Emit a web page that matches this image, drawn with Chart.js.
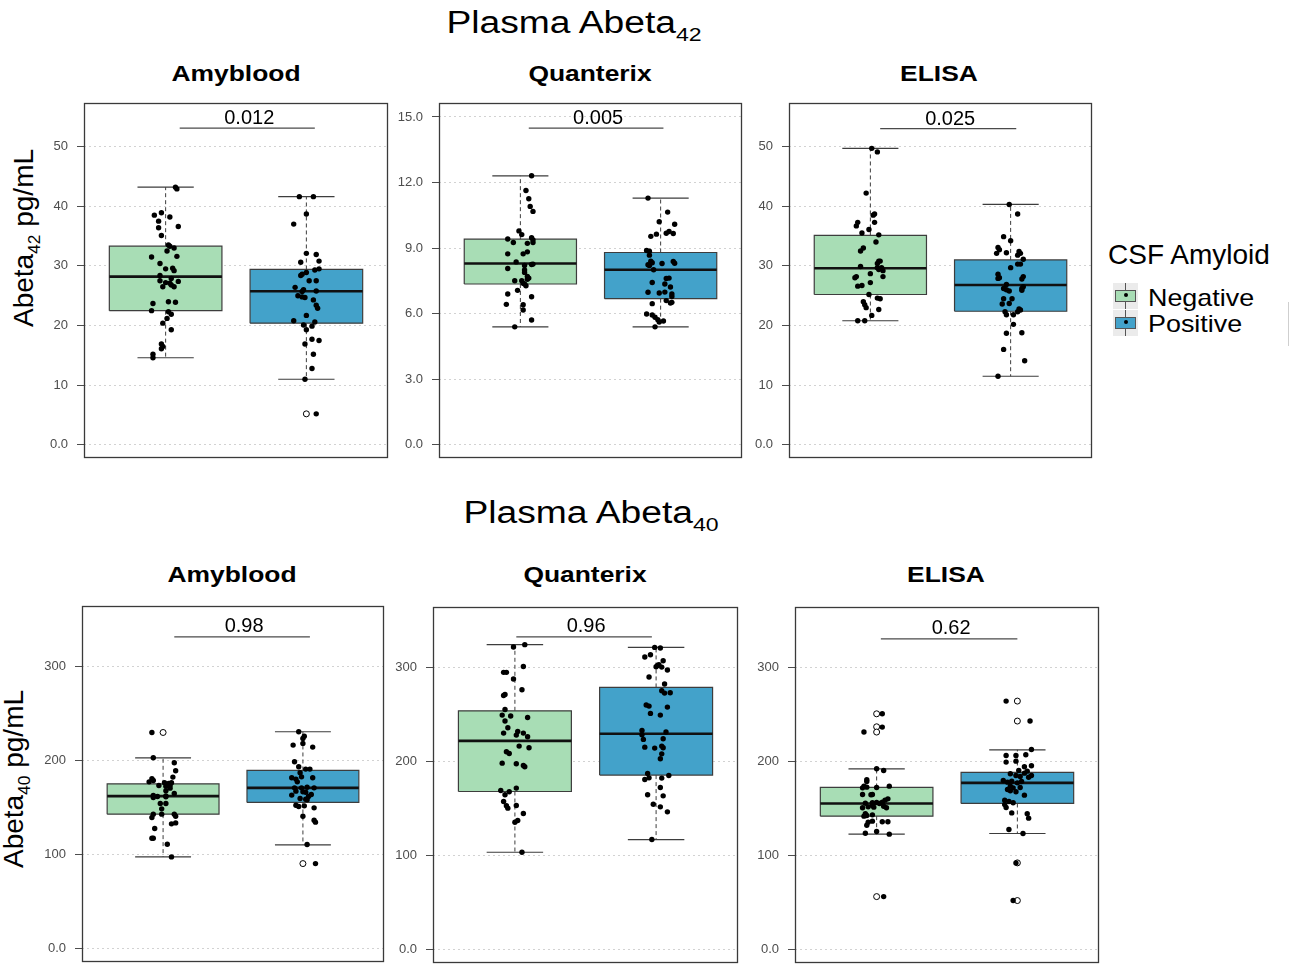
<!DOCTYPE html>
<html>
<head>
<meta charset="utf-8">
<title>Plasma Abeta42 / Abeta40</title>
<script src="https://cdn.jsdelivr.net/npm/chart.js@4.4.1/dist/chart.umd.min.js"></script>
<style>
  body { margin: 0; background: #fff; }
  #wrap { position: relative; width: 1292px; height: 965px; overflow: hidden; font-family: "Liberation Sans", Arial, sans-serif; color: #000; }
  .abs { position: absolute; white-space: nowrap; line-height: 1; }
  .main { font-size: 31px; transform: translateX(-50%) scaleX(1.2); }
  .main sub, .ylab sub { font-size: 62%; vertical-align: -0.42em; }
  .ptitle { font-size: 22px; font-weight: bold; transform: translateX(-50%) scaleX(1.2); }
  .ylab { font-size: 28px; transform: translate(-50%, -50%) rotate(-90deg); }
  .leg { font-size: 24px; transform-origin: left center; transform: scaleX(1.12); }
  .icon { position: absolute; width: 25px; height: 26px; background: #ebebeb; }
  .icon .wl { position: absolute; left: 12px; top: 0; width: 1px; height: 26px; background: #555; }
  .icon .bx { position: absolute; left: 2px; top: 7px; width: 19px; height: 10px; border: 1px solid #555; }
  .icon .dot { position: absolute; left: 11px; top: 10px; width: 4px; height: 4px; border-radius: 2px; background: #000; }
  canvas { position: absolute; }
</style>
</head>
<body>
<div id="wrap">
  <div class="abs main" style="left:574px; top:7px;">Plasma Abeta<sub>42</sub></div>
  <div class="abs main" style="left:591px; top:497px;">Plasma Abeta<sub>40</sub></div>

  <div class="abs ptitle" style="left:236px; top:63px;">Amyblood</div>
  <div class="abs ptitle" style="left:590px; top:63px;">Quanterix</div>
  <div class="abs ptitle" style="left:939px; top:63px;">ELISA</div>
  <div class="abs ptitle" style="left:232px; top:564px;">Amyblood</div>
  <div class="abs ptitle" style="left:585px; top:564px;">Quanterix</div>
  <div class="abs ptitle" style="left:946px; top:564px;">ELISA</div>

  <div class="abs ylab" style="left:27px; top:238px;">Abeta<sub>42</sub> pg/mL</div>
  <div class="abs ylab" style="left:17px; top:779px;">Abeta<sub>40</sub> pg/mL</div>

  <div class="abs" style="left:1108px; top:241px; font-size:28px;">CSF Amyloid</div>
  <div class="icon" style="left:1113px; top:283px;"><div class="wl"></div><div class="bx" style="background:#a8ddb5"></div><div class="dot"></div></div>
  <div class="icon" style="left:1113px; top:310px;"><div class="wl"></div><div class="bx" style="background:#43a2ca"></div><div class="dot"></div></div>
  <div class="abs leg" style="left:1148px; top:286px;">Negative</div>
  <div class="abs leg" style="left:1148px; top:312px;">Positive</div>
  <div class="abs" style="left:1288px; top:302px; width:1px; height:44px; background:#cfcfcf;"></div>
</div>

<script>
// groups on the x axis
const groups = ['Negative', 'Positive'];
const groupColors = ['#a8ddb5', '#43a2ca'];

// y tick values / labels
const ticks42 = [0, 10, 20, 30, 40, 50];
const ticks42Labels = ['0.0', '10', '20', '30', '40', '50'];
const ticksQx42 = [0, 3, 6, 9, 12, 15];
const ticksQx42Labels = ['0.0', '3.0', '6.0', '9.0', '12.0', '15.0'];
const ticks40 = [0, 100, 200, 300];
const ticks40Labels = ['0.0', '100', '200', '300'];

// box stats: [lower whisker, Q1, median, Q3, upper whisker]
const amy42NegBox = [14.6, 22.5, 28.2, 33.3, 43.2];
const amy42PosBox = [11.0, 20.4, 25.75, 29.4, 41.6];
const qx42NegBox = [5.40, 7.36, 8.30, 9.41, 12.31];
const qx42PosBox = [5.40, 6.69, 8.01, 8.80, 11.29];
const el42NegBox = [20.8, 25.2, 29.6, 35.1, 49.7];
const el42PosBox = [11.5, 22.4, 26.8, 31.0, 40.3];
const amy40NegBox = [97.4, 142.8, 161.9, 175.0, 202.6];
const amy40PosBox = [110.2, 155.2, 170.7, 189.2, 230.3];
const qx40NegBox = [103.4, 167.9, 221.7, 253.6, 323.8];
const qx40PosBox = [116.9, 185.3, 229.2, 278.4, 320.9];
const el40NegBox = [122.6, 141.7, 155.2, 172.2, 192.0];
const el40PosBox = [123.3, 155.2, 177.1, 188.1, 212.2];

// outliers (open circles)
const amy42NegOut = [];
const amy42PosOut = [5.2];
const qx42NegOut = [];
const qx42PosOut = [];
const el42NegOut = [];
const el42PosOut = [];
const amy40NegOut = [229.5];
const amy40PosOut = [90.3];
const qx40NegOut = [];
const qx40PosOut = [];
const el40NegOut = [250.4, 236.6, 231.0, 56.3];
const el40PosOut = [263.9, 242.7, 92.1, 52.1];

// jittered observations: [jitter, value]
const amy42Neg = [[0.07,43.2],[0.08,42.9],[-0.08,38.5],[-0.03,38.9],[-0.05,37.5],[0.03,38.2],[-0.05,36.4],[0.09,36.6],[-0.03,35.1],[0.02,33.5],[0.03,33.3],[0.06,33.0],[0.01,32.5],[-0.10,31.5],[0.08,31.6],[-0.04,30.4],[0,29.5],[0.05,29.6],[0.06,29.2],[-0.04,28.4],[0.04,27.9],[-0.04,27.5],[0,27.2],[0.03,27.1],[0.09,27.4],[-0.02,26.5],[0.06,26.5],[0.04,26.8],[-0.09,23.7],[0.02,24.0],[0.07,23.9],[-0.10,22.5],[0.02,22.3],[0.04,21.9],[0.01,21.2],[-0.02,20.4],[0.04,19.3],[-0.03,16.9],[-0.02,16.5],[-0.03,16.1],[-0.09,15.2],[-0.09,14.6]];
const amy42Pos = [[-0.05,41.6],[0.05,41.6],[0,38.7],[-0.09,37.0],[0,32.1],[0.07,31.9],[-0.04,30.6],[0.09,30.8],[0.09,29.5],[0.06,29.3],[0,28.9],[-0.04,28.4],[-0.03,28.6],[0.02,27.5],[0.07,27.5],[-0.08,26.4],[-0.02,26.0],[-0.03,25.7],[0.07,25.8],[-0.06,25.0],[-0.03,24.8],[-0.01,24.7],[0.05,24.3],[0.07,23.4],[0.08,22.9],[-0.09,20.8],[0,21.7],[0.06,20.6],[-0.02,20.1],[0.04,19.9],[0,19.3],[0.04,17.7],[0.09,17.5],[-0.01,16.9],[0.05,15.2],[0.04,12.8],[-0.01,11.0],[0.07,5.2]];
const qx42Neg = [[0.08,12.31],[0.04,11.64],[0.06,11.26],[0.07,10.91],[0.09,10.68],[-0.01,9.79],[0.01,9.62],[-0.09,9.42],[-0.05,9.26],[0.05,9.22],[0.08,9.48],[0.09,9.38],[0.09,9.26],[-0.09,8.74],[0.02,8.74],[0.05,8.83],[-0.03,8.37],[0.09,8.27],[0.08,8.25],[0.03,8.21],[-0.09,8.07],[0.03,8.0],[0.03,7.89],[0.05,7.71],[0.05,7.58],[0.06,7.63],[-0.04,7.51],[0.01,7.51],[0.03,7.36],[0.04,7.28],[0.02,7.39],[-0.02,7.07],[-0.09,6.90],[0.08,6.78],[-0.10,6.43],[0.02,6.41],[0.02,6.17],[0.08,5.71],[-0.04,5.40]];
const qx42Pos = [[-0.09,11.29],[-0.01,10.21],[0.05,10.65],[0.10,10.09],[0.06,9.76],[0.04,9.68],[-0.03,9.64],[-0.07,9.54],[0.09,9.67],[-0.10,8.89],[-0.08,8.68],[-0.08,8.86],[-0.07,8.40],[-0.06,8.33],[-0.09,8.24],[-0.08,8.21],[-0.05,8.01],[0.01,8.30],[0.09,8.39],[0.10,8.31],[0.06,7.63],[0.04,7.61],[-0.06,7.43],[0.03,7.36],[0.07,7.22],[-0.09,6.98],[-0.01,6.95],[0.03,6.99],[0.08,6.90],[0.08,6.79],[0.04,6.60],[0.08,6.52],[0.07,6.49],[-0.06,6.46],[-0.10,5.99],[-0.06,5.94],[-0.04,5.84],[-0.02,5.73],[-0.01,5.62],[0.02,5.67],[-0.04,5.40]];
const el42Neg = [[0.01,49.7],[0.05,49.1],[-0.03,42.2],[0.02,38.5],[0.03,38.7],[0.03,37.3],[-0.09,37.3],[-0.10,36.7],[-0.01,36.1],[0.06,35.2],[-0.06,35.5],[0.04,34.0],[-0.05,33.0],[-0.07,32.5],[0.06,30.8],[0.07,30.8],[0.05,30.4],[-0.07,29.9],[0.05,29.7],[0.08,29.7],[0.06,29.4],[0.09,29.2],[0,28.7],[-0.10,28.2],[-0.11,28.0],[0.09,28.2],[0,27.2],[-0.06,26.7],[-0.09,26.6],[-0.01,25.2],[0.05,24.6],[0.07,24.5],[-0.05,24.0],[-0.04,23.5],[-0.03,23.0],[0.06,22.7],[0.01,21.7],[-0.09,20.8],[-0.04,20.8]];
const el42Pos = [[-0.01,40.3],[0.05,38.7],[-0.05,34.9],[0,34.2],[-0.09,33.1],[-0.08,32.7],[-0.10,32.1],[-0.03,32.2],[0.06,32.4],[0.07,32.1],[0.05,31.8],[0.09,31.1],[0.05,30.3],[0.07,30.3],[0,29.7],[-0.09,28.6],[-0.08,28.0],[-0.09,27.9],[0.09,28.2],[0.08,27.8],[-0.03,26.9],[-0.05,26.2],[-0.03,26.0],[-0.01,25.8],[0.08,26.2],[0.09,26.5],[0.08,25.9],[-0.05,24.5],[0.01,24.5],[-0.06,23.6],[-0.01,23.7],[0.06,22.8],[0.07,22.6],[0.05,22.3],[-0.04,22.3],[-0.03,21.8],[0.02,21.8],[0.02,20.2],[-0.03,18.7],[0.08,18.8],[-0.05,16.0],[0.10,14.1],[-0.09,11.5]];
const amy40Neg = [[-0.08,229.5],[-0.07,202.6],[0.08,197.3],[0.09,188.8],[0.07,182.1],[-0.08,180.3],[-0.07,178.5],[-0.10,177.1],[0.01,176.1],[0.04,175.3],[0.06,176.1],[0.05,173.2],[-0.03,173.2],[0.02,172.5],[0.05,170.4],[0.08,164.7],[0.02,167.6],[-0.07,162.6],[-0.07,160.5],[-0.04,161.5],[0.02,162.2],[0.02,161.2],[-0.02,154.1],[0.02,154.1],[-0.01,148.4],[-0.07,142.8],[-0.01,142.8],[-0.08,139.2],[0.08,142.8],[0.09,140.6],[0.09,133.5],[0.06,132.5],[-0.06,127.5],[-0.08,117.2],[-0.07,117.2],[0.03,110.9],[0.06,97.4]];
const amy40Pos = [[-0.03,230.3],[0.01,225.6],[0,223.2],[0,217.9],[-0.07,216.1],[0.07,214.0],[-0.06,198.4],[-0.03,193.1],[0.02,190.6],[0.05,190.6],[-0.02,186.7],[-0.08,181.4],[-0.05,180.0],[-0.01,182.4],[0.07,181.4],[-0.04,177.1],[-0.06,170.7],[-0.01,170.7],[0.03,171.4],[0.08,170.7],[-0.05,167.2],[0,166.5],[0.02,166.1],[-0.08,163.0],[0.06,163.7],[0.04,161.5],[0.02,158.7],[0.03,158.0],[-0.02,159.4],[-0.05,152.3],[-0.03,150.9],[0.01,151.6],[0.08,149.5],[0,140.6],[0.08,136.4],[0.09,134.3],[0.03,110.5],[0.09,90.3]];
const qx40Neg = [[-0.01,321.3],[0.07,323.8],[0.06,300.7],[-0.08,294.4],[-0.06,294.4],[-0.01,287.3],[0.05,275.9],[-0.07,271.0],[-0.08,269.9],[-0.07,255.0],[-0.09,249.0],[-0.03,248.0],[0.09,246.5],[-0.07,242.7],[-0.05,235.6],[0.02,231.7],[0.06,229.9],[-0.08,229.9],[0.01,227.8],[0.09,226.0],[0.03,216.1],[0.10,214.3],[-0.06,210.1],[-0.04,208.3],[-0.09,198.0],[0.01,197.3],[0.06,195.5],[0.07,194.1],[-0.10,169.0],[0.01,171.5],[-0.04,167.6],[-0.07,164.4],[-0.08,157.3],[-0.06,152.7],[-0.05,150.2],[0.01,153.0],[0.06,144.5],[0,135.3],[0.02,137.1],[0.05,103.4]];
const qx40Pos = [[-0.01,320.9],[0.03,320.2],[-0.08,310.7],[-0.04,313.1],[0.05,306.8],[0.01,301.8],[0.02,302.5],[0.04,300.0],[0,300.4],[0.08,296.9],[-0.05,289.4],[0.06,282.0],[0.04,274.9],[0.06,272.4],[0.10,272.8],[-0.07,259.7],[-0.05,258.6],[0.08,257.5],[-0.04,250.8],[0.03,249.0],[-0.10,232.7],[-0.10,228.1],[0.07,231.0],[-0.09,223.2],[0.05,223.9],[-0.08,215.0],[-0.01,214.0],[0.04,216.1],[0.05,214.3],[0.04,207.9],[0.03,202.6],[-0.06,187.0],[-0.08,180.7],[-0.05,182.4],[0.04,182.1],[0.09,184.9],[0.03,172.2],[-0.06,164.4],[0.05,163.3],[-0.02,154.4],[0.03,151.6],[0.08,146.3],[-0.03,116.9]];
const el40Neg = [[0.04,250.4],[0.04,236.3],[-0.09,231.0],[0,192.0],[0.05,190.2],[-0.07,180.3],[-0.07,178.5],[-0.09,173.6],[-0.07,172.5],[0,172.2],[0.09,173.6],[-0.10,171.8],[-0.10,164.7],[-0.04,164.4],[-0.03,164.7],[0.08,160.1],[0.06,158.7],[0.04,156.6],[-0.03,155.9],[0,156.2],[0.02,155.2],[-0.08,155.5],[-0.10,150.6],[-0.03,153.0],[-0.06,151.6],[-0.02,151.3],[0.05,152.3],[0.07,150.6],[-0.08,144.2],[-0.07,142.4],[-0.03,143.1],[-0.09,141.7],[-0.06,135.3],[-0.03,136.4],[0.04,135.7],[0.08,135.7],[-0.07,132.1],[0,125.4],[-0.08,123.6],[0.09,122.6],[0.05,56.3]];
const el40Pos = [[-0.08,263.9],[0.09,242.7],[0.10,212.5],[-0.08,206.2],[-0.01,206.2],[0.06,206.9],[-0.08,199.1],[-0.01,200.1],[0.10,195.2],[0.05,194.1],[0.01,190.2],[0.07,189.5],[-0.05,186.7],[-0.01,184.9],[0.10,184.9],[0.02,183.9],[0.08,183.1],[0.05,187.4],[-0.10,179.6],[-0.07,177.8],[-0.04,178.9],[0,177.1],[0.03,178.5],[-0.05,173.6],[-0.03,171.8],[0.02,172.2],[-0.07,170.0],[-0.05,168.6],[-0.01,167.6],[0.05,164.0],[-0.09,158.7],[-0.06,157.3],[-0.03,155.9],[-0.09,154.1],[-0.08,150.9],[-0.04,145.2],[0.07,144.2],[0.08,139.6],[-0.06,127.5],[0.04,123.3],[-0.01,92.1],[-0.03,52.1]];

// p-values
const pValues = ['0.012', '0.005', '0.025', '0.98', '0.96', '0.62'];

const FONT = '"Liberation Sans", Arial, sans-serif';
const AXIS_W = 70;

// panel layout: plot-area rectangle in page pixels, y range, significance bar (x0, x1, y)
const panels = [
  { left: 84,  top: 103, w: 304, h: 355, ymin: -2.2, ymax: 57.3,  ticks: ticks42,   labels: ticks42Labels,   neg: amy42Neg, pos: amy42Pos, box: [amy42NegBox, amy42PosBox], out: [amy42NegOut, amy42PosOut], bar: [1.10, 2.06, 53.1], gap: 4 },
  { left: 439, top: 103, w: 303, h: 355, ymin: -0.6, ymax: 15.64, ticks: ticksQx42, labels: ticksQx42Labels, neg: qx42Neg,  pos: qx42Pos,  box: [qx42NegBox, qx42PosBox],   out: [qx42NegOut, qx42PosOut],   bar: [1.06, 2.02, 14.49], gap: 4 },
  { left: 789, top: 103, w: 303, h: 355, ymin: -2.2, ymax: 57.3,  ticks: ticks42,   labels: ticks42Labels,   neg: el42Neg,  pos: el42Pos,  box: [el42NegBox, el42PosBox],   out: [el42NegOut, el42PosOut],   bar: [1.07, 2.04, 53.0], gap: 4 },
  { left: 82,  top: 606, w: 302, h: 356, ymin: -14.2, ymax: 363.8, ticks: ticks40,  labels: ticks40Labels,   neg: amy40Neg, pos: amy40Pos, box: [amy40NegBox, amy40PosBox], out: [amy40NegOut, amy40PosOut], bar: [1.08, 2.05, 331], gap: 5 },
  { left: 433, top: 607, w: 305, h: 356, ymin: -14.2, ymax: 363.8, ticks: ticks40,  labels: ticks40Labels,   neg: qx40Neg,  pos: qx40Pos,  box: [qx40NegBox, qx40PosBox],   out: [qx40NegOut, qx40PosOut],   bar: [1.01, 1.97, 332], gap: 5 },
  { left: 795, top: 607, w: 304, h: 356, ymin: -14.2, ymax: 363.8, ticks: ticks40,  labels: ticks40Labels,   neg: el40Neg,  pos: el40Pos,  box: [el40NegBox, el40PosBox],   out: [el40NegOut, el40PosOut],   bar: [1.03, 2.00, 330], gap: 5 },
];

const lineBase = { type: 'line', showLine: true, pointRadius: 0, tension: 0, fill: false, borderColor: '#3d3d3d', borderWidth: 1.2 };

function boxDatasets(c, s, color) {
  const [lo, q1, med, q3, hi] = s;
  const bw = 0.4, cw = 0.2;
  return [
    { ...lineBase, data: [{ x: c - bw, y: q3 }, { x: c + bw, y: q3 }], fill: { value: q1 }, backgroundColor: color, borderColor: 'rgba(0,0,0,0)', borderWidth: 0, order: 10 },
    { ...lineBase, data: [{ x: c, y: q3 }, { x: c, y: hi }, { x: c, y: null }, { x: c, y: q1 }, { x: c, y: lo }], borderDash: [4, 3], borderWidth: 1, order: 9 },
    { ...lineBase, data: [{ x: c - cw, y: hi }, { x: c + cw, y: hi }, { x: c, y: null }, { x: c - cw, y: lo }, { x: c + cw, y: lo }], order: 8 },
    { ...lineBase, data: [{ x: c - bw, y: q1 }, { x: c + bw, y: q1 }, { x: c + bw, y: q3 }, { x: c - bw, y: q3 }, { x: c - bw, y: q1 }], order: 7 },
    { ...lineBase, data: [{ x: c - bw, y: med }, { x: c + bw, y: med }], borderColor: '#111', borderWidth: 2.6, order: 6 },
  ];
}

panels.forEach((p, i) => {
  const cv = document.createElement('canvas');
  cv.width = p.w + AXIS_W + 2;
  cv.height = p.h + 4;
  cv.style.left = (p.left - AXIS_W) + 'px';
  cv.style.top = (p.top - 2) + 'px';
  document.getElementById('wrap').appendChild(cv);

  const datasets = [];
  [p.neg, p.pos].forEach((pts, g) => {
    const c = g + 1;
    datasets.push(...boxDatasets(c, p.box[g], groupColors[g]));
    datasets.push({
      label: groups[g] + ' outliers', type: 'scatter',
      data: p.out[g].map(v => ({ x: c, y: v })),
      pointRadius: 3, pointBackgroundColor: '#fff', pointBorderColor: '#000', pointBorderWidth: 1, order: 2,
    });
    datasets.push({
      label: groups[g], type: 'scatter',
      data: pts.map(([j, v]) => ({ x: c + j, y: v })),
      pointRadius: 2.7, pointBackgroundColor: '#000', pointBorderWidth: 0, order: 1,
    });
  });
  // significance bar
  datasets.push({ ...lineBase, data: [{ x: p.bar[0], y: p.bar[2] }, { x: p.bar[1], y: p.bar[2] }], borderColor: '#4a4a4a', borderWidth: 1.2, order: 5 });

  const extras = {
    id: 'extras' + i,
    afterDraw(chart) {
      const { ctx, chartArea: a, scales: { x, y } } = chart;
      ctx.save();
      ctx.strokeStyle = '#3a3a3a';
      ctx.lineWidth = 1.3;
      ctx.strokeRect(Math.round(a.left) + 0.5, Math.round(a.top) + 0.5, Math.round(a.right - a.left) - 1, Math.round(a.bottom - a.top) - 1);
      ctx.font = '20px ' + FONT;
      ctx.fillStyle = '#000';
      ctx.textAlign = 'center';
      ctx.textBaseline = 'alphabetic';
      ctx.fillText(pValues[i], x.getPixelForValue((p.bar[0] + p.bar[1]) / 2) + 2, y.getPixelForValue(p.bar[2]) - p.gap);
      ctx.restore();
    }
  };

  new Chart(cv, {
    type: 'scatter',
    data: { datasets },
    options: {
      responsive: false,
      animation: false,
      events: [],
      layout: { autoPadding: false, padding: { top: 2, right: 2, bottom: 2, left: 0 } },
      plugins: { legend: { display: false }, tooltip: { enabled: false } },
      scales: {
        x: { type: 'linear', min: 0.42, max: 2.58, display: false },
        y: {
          type: 'linear', min: p.ymin, max: p.ymax,
          afterFit(s) { s.width = AXIS_W; s.paddingTop = 0; s.paddingBottom = 0; },
          afterBuildTicks(s) { s.ticks = p.ticks.map(v => ({ value: v })); },
          ticks: { callback: (v, idx) => p.labels[idx], font: { family: FONT, size: 13 }, color: '#4d4d4d', padding: 9, autoSkip: false },
          grid: { color: '#d2d2d2', lineWidth: 1, tickLength: 7, tickColor: '#4d4d4d', tickWidth: 1 },
          border: { display: false, dash: [2, 3] }
        }
      }
    },
    plugins: [extras]
  });
});
</script>
</body>
</html>
